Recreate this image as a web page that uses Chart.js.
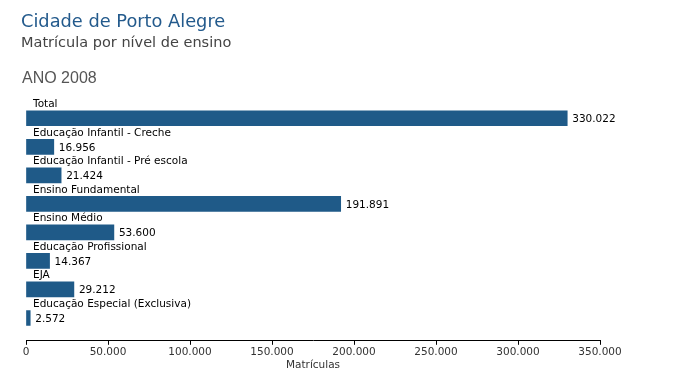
<!DOCTYPE html>
<html>
<head>
<meta charset="utf-8">
<script src="https://cdn.jsdelivr.net/npm/chart.js@4/dist/chart.umd.min.js"></script>
<style>
  html, body { margin: 0; padding: 0; background: #fff; }
  #wrap { width: 690px; height: 390px; }
</style>
</head>
<body>
<div id="wrap"><canvas id="chart"></canvas></div>
<script>
// dados
const categorias = [
    'Total',
    'Educação Infantil - Creche',
    'Educação Infantil - Pré escola',
    'Ensino Fundamental',
    'Ensino Médio',
    'Educação Profissional',
    'EJA',
    'Educação Especial (Exclusiva)'
];
const matriculas = [330022, 16956, 21424, 191891, 53600, 14367, 29212, 2572];
const tituloTexto = 'Cidade de Porto Alegre';
const subtituloTexto = 'Matrícula por nível de ensino';
const anoTexto = 'ANO 2008';
const eixoTitulo = 'Matrículas';

const azul = '#1f5a88';
const fonte = 'DejaVu Sans';

// formata 330022 -> 330.022
function fmt(n) {
    return String(n).replace(/\B(?=(\d{3})+(?!\d))/g, '.');
}

// textos do cabeçalho, nomes das categorias e valores
const rotulos = {
    id: 'rotulos',
    afterDatasetsDraw(chart) {
        const ctx = chart.ctx;
        const meta = chart.getDatasetMeta(0);
        ctx.save();
        ctx.font = '10.5px "' + fonte + '"';
        ctx.fillStyle = '#000';
        meta.data.forEach((bar, i) => {
            ctx.textAlign = 'left';
            ctx.textBaseline = 'alphabetic';
            ctx.fillText(categorias[i], chart.chartArea.left + 7, bar.y - 11);
            ctx.textBaseline = 'middle';
            ctx.fillText(fmt(matriculas[i]), bar.x + 5, bar.y + 1);
        });
        ctx.restore();
    },
    afterDraw(chart) {
        const ctx = chart.ctx;
        ctx.save();
        ctx.textAlign = 'left';
        ctx.textBaseline = 'alphabetic';
        ctx.fillStyle = '#235a8c';
        ctx.font = '17.8px "' + fonte + '"';
        ctx.fillText(tituloTexto, 21, 27);
        ctx.fillStyle = '#444';
        ctx.font = '14.5px "' + fonte + '"';
        ctx.fillText(subtituloTexto, 21, 47);
        ctx.fillStyle = '#555';
        ctx.font = '16px "Liberation Sans"';
        ctx.fillText(anoTexto, 22, 83);
        ctx.restore();
    }
};

const ctx = document.getElementById('chart').getContext('2d');
const chart = new Chart(ctx, {
    type: 'bar',
    data: {
        datasets: [{
            data: matriculas.map((v, i) => ({ x: v, y: i })),
            backgroundColor: azul,
            borderWidth: 0,
            barThickness: 15
        }]
    },
    options: {
        indexAxis: 'y',
        responsive: true,
        maintainAspectRatio: false,
        animation: false,
        layout: {
            padding: { top: 104, left: 26, right: 90, bottom: 14 }
        },
        plugins: {
            legend: { display: false },
            tooltip: { enabled: false }
        },
        scales: {
            y: {
                type: 'linear',
                display: false,
                offset: false,
                grid: { offset: false },
                reverse: true,
                min: -0.5,
                max: 7.8
            },
            x: {
                type: 'linear',
                min: 0,
                max: 350000,
                border: { display: true, color: '#000', width: 1 },
                grid: {
                    drawOnChartArea: false,
                    drawTicks: true,
                    tickLength: 4,
                    color: '#000'
                },
                ticks: {
                    stepSize: 50000,
                    padding: 1,
                    maxRotation: 0,
                    color: '#333',
                    font: { family: fonte, size: 10.5 },
                    callback: v => fmt(v)
                },
                title: {
                    display: true,
                    text: eixoTitulo,
                    color: '#333',
                    padding: { top: 0, bottom: 4 },
                    font: { family: fonte, size: 10.5 }
                }
            }
        }
    },
    plugins: [rotulos]
});
</script>
</body>
</html>
